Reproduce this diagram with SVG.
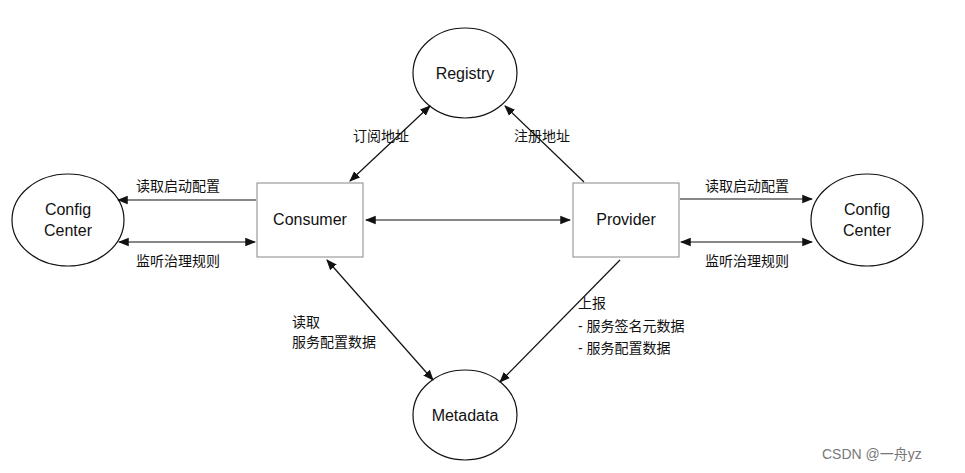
<svg xmlns="http://www.w3.org/2000/svg" width="965" height="473" viewBox="0 0 965 473">
<style>
.n{fill:#fff;stroke:#111;stroke-width:1.2}
.b{fill:#fff;stroke:#888;stroke-width:1}
.t{font-family:"Liberation Sans","Noto Sans CJK SC",sans-serif;font-size:16px;fill:#111;text-anchor:middle}
.l{font-family:"Liberation Sans","Noto Sans CJK SC",sans-serif;font-size:14px;fill:#111}
.c path{fill:none;stroke:#111;stroke-width:1.2}
</style>
<defs><marker id="a" viewBox="0 0 10 10" refX="9" refY="5" markerWidth="9" markerHeight="9" orient="auto-start-reverse"><path d="M0,1 L10,5 L0,9 z" fill="#111"/></marker></defs>
<rect width="965" height="473" fill="#fff"/>
<g id="registry"><ellipse class="n" cx="465" cy="73" rx="52" ry="45"/><text class="t" x="465" y="79">Registry</text></g>
<g id="consumer"><rect class="b" x="257" y="183" width="106" height="74"/><text class="t" x="310" y="225">Consumer</text></g>
<g id="provider"><rect class="b" x="573" y="183" width="106" height="74"/><text class="t" x="626" y="225">Provider</text></g>
<g id="configL"><ellipse class="n" cx="68" cy="220" rx="56" ry="46"/><text class="t" x="68" y="215">Config</text><text class="t" x="68" y="236">Center</text></g>
<g id="configR"><ellipse class="n" cx="867" cy="220" rx="56" ry="46"/><text class="t" x="867" y="215">Config</text><text class="t" x="867" y="236">Center</text></g>
<g id="metadata"><ellipse class="n" cx="465" cy="415" rx="52" ry="45"/><text class="t" x="465" y="421">Metadata</text></g>
<g class="c">
<path d="M256,200 L118,200" marker-end="url(#a)"/>
<path d="M119,242 L255,242" marker-start="url(#a)" marker-end="url(#a)"/>
<path d="M366,220 L570,220" marker-start="url(#a)" marker-end="url(#a)"/>
<path d="M350,181 L430,106" marker-start="url(#a)" marker-end="url(#a)"/>
<path d="M584,182 L505,106" marker-end="url(#a)"/>
<path d="M680,199 L812,199" marker-end="url(#a)"/>
<path d="M681,242 L812,242" marker-start="url(#a)" marker-end="url(#a)"/>
<path d="M327,260 L433,380" marker-start="url(#a)" marker-end="url(#a)"/>
<path d="M620,260 L500,382" marker-end="url(#a)"/>
</g>
<g>
<text class="l" x="136" y="191">读取启动配置</text>
<text class="l" x="136" y="266">监听治理规则</text>
<text class="l" x="353" y="141">订阅地址</text>
<text class="l" x="514" y="141">注册地址</text>
<text class="l" x="705" y="191">读取启动配置</text>
<text class="l" x="705" y="266">监听治理规则</text>
<text class="l" x="292" y="327">读取</text>
<text class="l" x="292" y="347">服务配置数据</text>
<text class="l" x="578" y="308">上报</text>
<text class="l" x="578" y="331">- 服务签名元数据</text>
<text class="l" x="578" y="353">- 服务配置数据</text>
<text x="822" y="459" style="font-family:'Liberation Sans','Noto Sans CJK SC',sans-serif;fill:#777;font-size:14px">CSDN @一舟yz</text>
</g>
</svg>
